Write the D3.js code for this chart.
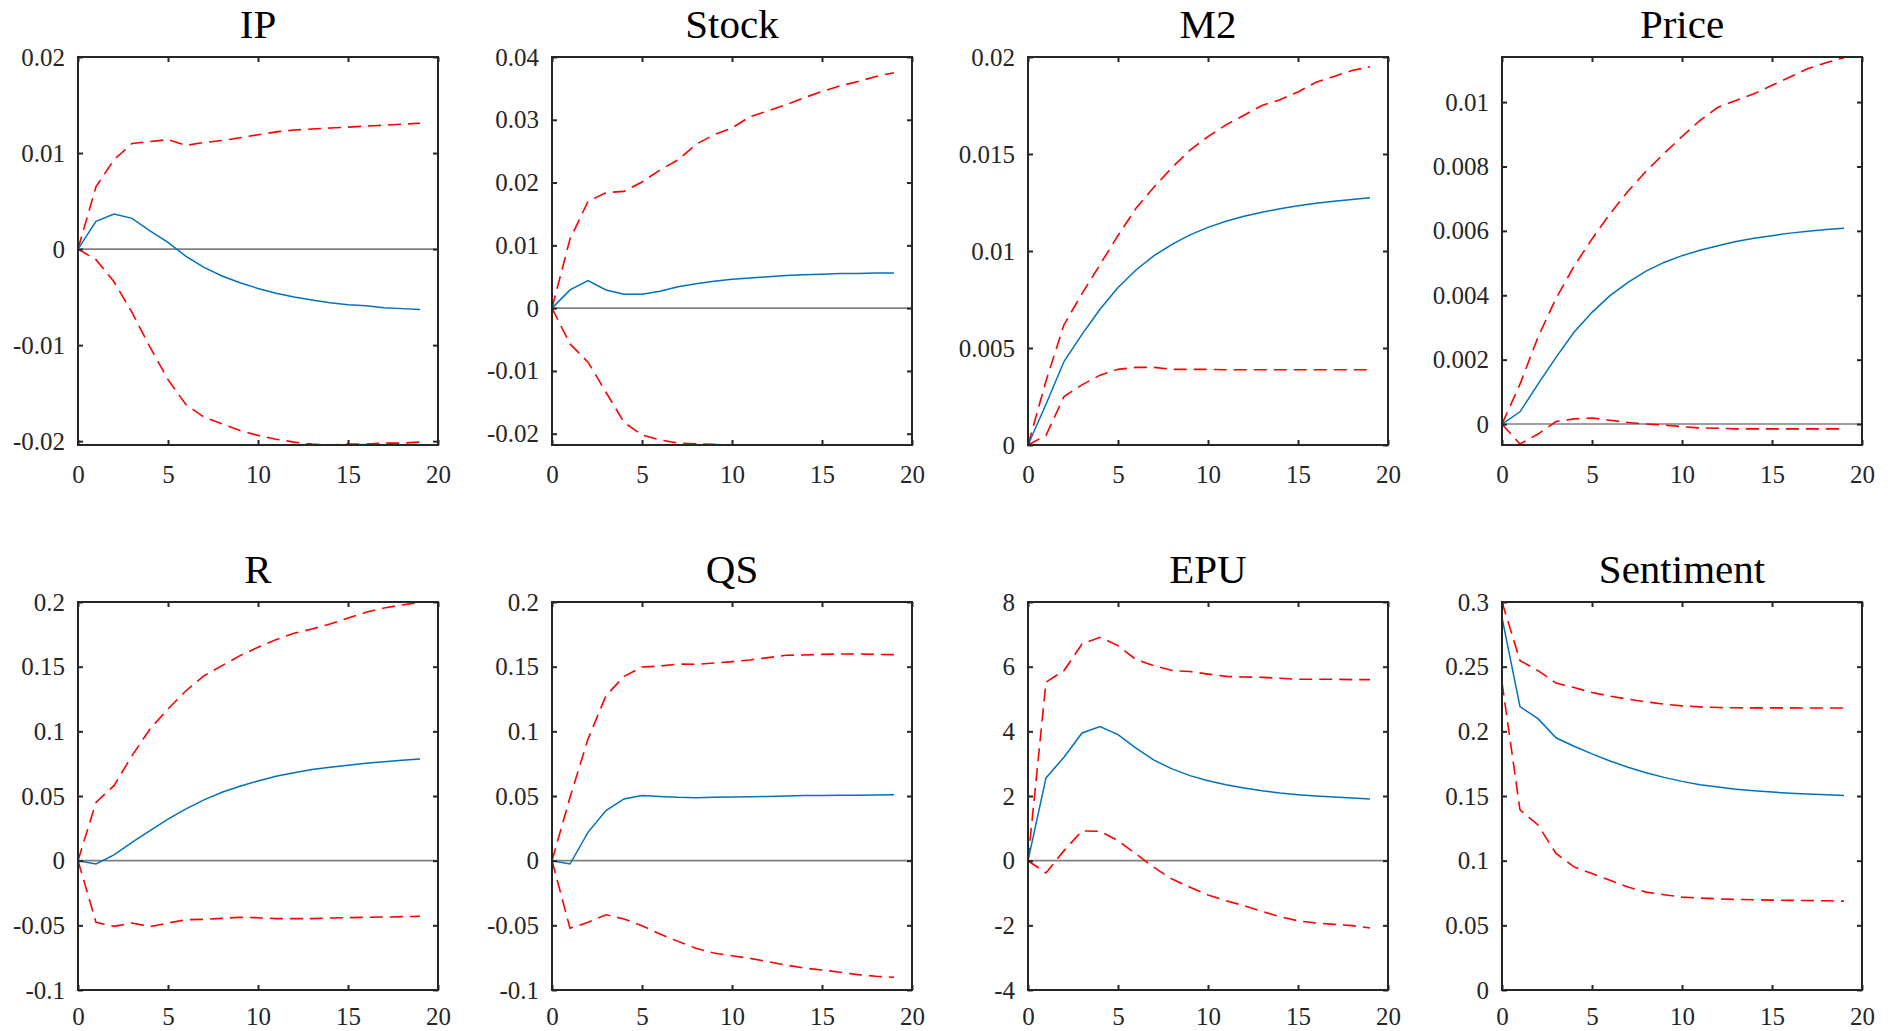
<!DOCTYPE html>
<html>
<head>
<meta charset="utf-8">
<script src="https://cdn.jsdelivr.net/npm/d3@7"></script>
<style>
  body { margin: 0; background: #fff; }
  svg { display: block; }
</style>
</head>
<body>
<div id="chart"></div>
<script>
// horizon 0..19
const horizons = d3.range(0, 20);
const xTicks = [0, 5, 10, 15, 20];

const titles = ['IP', 'Stock', 'M2', 'Price', 'R', 'QS', 'EPU', 'Sentiment'];

const yDomains = [
  [-0.0204, 0.02], [-0.0218, 0.04], [0, 0.02], [-0.00065, 0.0114],
  [-0.1, 0.2], [-0.1, 0.2], [-4, 8], [0, 0.3]
];
const yTicks = [
  [-0.02, -0.01, 0, 0.01, 0.02],
  [-0.02, -0.01, 0, 0.01, 0.02, 0.03, 0.04],
  [0, 0.005, 0.01, 0.015, 0.02],
  [0, 0.002, 0.004, 0.006, 0.008, 0.01],
  [-0.1, -0.05, 0, 0.05, 0.1, 0.15, 0.2],
  [-0.1, -0.05, 0, 0.05, 0.1, 0.15, 0.2],
  [-4, -2, 0, 2, 4, 6, 8],
  [0, 0.05, 0.1, 0.15, 0.2, 0.25, 0.3]
];

// impulse responses (median) and bands
const ipResp  = [0, 0.00288, 0.00365, 0.0032, 0.0019, 0.0007, -0.00076, -0.0019, -0.0028, -0.0035, -0.0041, -0.0046, -0.0050, -0.0053, -0.0056, -0.0058, -0.0059, -0.0061, -0.0062, -0.0063];
const ipUpper = [0, 0.0065, 0.0093, 0.0110, 0.0112, 0.0114, 0.0108, 0.0111, 0.0113, 0.0116, 0.0119, 0.0122, 0.0124, 0.0125, 0.0126, 0.0127, 0.0128, 0.0129, 0.0130, 0.0131];
const ipLower = [0, -0.0011, -0.0034, -0.0066, -0.0102, -0.0136, -0.0162, -0.0175, -0.0182, -0.0189, -0.0194, -0.0198, -0.0201, -0.0203, -0.0204, -0.0203, -0.0203, -0.0202, -0.0202, -0.0201];

const stockResp  = [0, 0.0029, 0.0044, 0.0029, 0.0022, 0.0022, 0.0027, 0.0034, 0.0039, 0.0043, 0.0046, 0.0048, 0.0050, 0.0052, 0.0053, 0.0054, 0.0055, 0.0055, 0.0056, 0.0056];
const stockUpper = [0, 0.0110, 0.0170, 0.0184, 0.0186, 0.0201, 0.0220, 0.0236, 0.0261, 0.0276, 0.0287, 0.0305, 0.0314, 0.0324, 0.0335, 0.0345, 0.0354, 0.0361, 0.0369, 0.0375];
const stockLower = [0, -0.0057, -0.0086, -0.0134, -0.0182, -0.0202, -0.0210, -0.0215, -0.0216, -0.0217, -0.0218, -0.0218, -0.0218, -0.0218, -0.0218, -0.0218, -0.0218, -0.0218, -0.0218, -0.0218];

const m2Resp  = [0, 0.0021, 0.0043, 0.0057, 0.0070, 0.00812, 0.00902, 0.00976, 0.01034, 0.01083, 0.01122, 0.01153, 0.01179, 0.01200, 0.01218, 0.01233, 0.01246, 0.01257, 0.01266, 0.01274];
const m2Upper = [0, 0.0033, 0.0062, 0.0078, 0.0093, 0.0108, 0.0122, 0.0133, 0.0143, 0.0152, 0.0159, 0.0165, 0.0170, 0.0175, 0.0178, 0.0182, 0.0187, 0.0190, 0.0193, 0.0195];
const m2Lower = [0, 0.0005, 0.0025, 0.0031, 0.0036, 0.0039, 0.0040, 0.0040, 0.0039, 0.0039, 0.0039, 0.00388, 0.00388, 0.00388, 0.00388, 0.00388, 0.00388, 0.00388, 0.00388, 0.00388];

const priceResp  = [0, 0.00038, 0.00124, 0.00207, 0.00285, 0.00347, 0.00399, 0.00440, 0.00475, 0.00502, 0.00523, 0.00540, 0.00554, 0.00567, 0.00577, 0.00585, 0.00593, 0.00599, 0.00604, 0.00608];
const priceUpper = [0, 0.00124, 0.00270, 0.00390, 0.00490, 0.00575, 0.00653, 0.00723, 0.00785, 0.00840, 0.00893, 0.00943, 0.00984, 0.01005, 0.01026, 0.01052, 0.01078, 0.01104, 0.01122, 0.01138];
const priceLower = [0, -0.00062, -0.00031, 0.00008, 0.00016, 0.00019, 0.00012, 0.00005, 0, -0.00003, -0.00008, -0.00012, -0.00013, -0.00015, -0.00015, -0.00015, -0.00015, -0.00015, -0.00015, -0.00015];

const rResp  = [0, -0.0026, 0.0044, 0.0142, 0.0232, 0.0322, 0.0400, 0.0470, 0.0529, 0.0575, 0.0616, 0.0652, 0.0680, 0.0704, 0.0722, 0.0737, 0.0753, 0.0765, 0.0776, 0.0786];
const rUpper = [0, 0.0451, 0.0580, 0.0812, 0.1018, 0.1173, 0.1314, 0.1430, 0.1508, 0.1585, 0.1650, 0.1709, 0.1758, 0.1791, 0.1830, 0.1876, 0.1920, 0.1954, 0.1977, 0.1997];
const rLower = [0, -0.0477, -0.0508, -0.0482, -0.0510, -0.0482, -0.0456, -0.0454, -0.0446, -0.0438, -0.0441, -0.0448, -0.0448, -0.0448, -0.0443, -0.0441, -0.0438, -0.0436, -0.0433, -0.0430];

const qsResp  = [0, -0.0026, 0.0219, 0.0387, 0.0477, 0.0503, 0.0497, 0.0490, 0.0487, 0.0490, 0.0492, 0.0495, 0.0497, 0.0500, 0.0503, 0.0503, 0.0505, 0.0506, 0.0508, 0.0510];
const qsUpper = [0, 0.0490, 0.0940, 0.1276, 0.1425, 0.1497, 0.1505, 0.1520, 0.1518, 0.1528, 0.1539, 0.1552, 0.1570, 0.1588, 0.1590, 0.1595, 0.1598, 0.1598, 0.1595, 0.1593];
const qsLower = [0, -0.0523, -0.0477, -0.0418, -0.0451, -0.0503, -0.0567, -0.0624, -0.0678, -0.0714, -0.0735, -0.0755, -0.0781, -0.0807, -0.0830, -0.0845, -0.0863, -0.0881, -0.0894, -0.0902];

const epuResp  = [0, 2.56, 3.20, 3.95, 4.15, 3.90, 3.48, 3.11, 2.84, 2.63, 2.47, 2.35, 2.25, 2.16, 2.09, 2.04, 2.00, 1.97, 1.94, 1.91];
const epuUpper = [0, 5.52, 5.88, 6.70, 6.91, 6.65, 6.22, 6.03, 5.88, 5.85, 5.77, 5.70, 5.68, 5.67, 5.64, 5.61, 5.61, 5.61, 5.60, 5.60];
const epuLower = [0, -0.38, 0.31, 0.92, 0.91, 0.62, 0.21, -0.21, -0.57, -0.82, -1.06, -1.24, -1.39, -1.57, -1.73, -1.86, -1.93, -1.97, -2.01, -2.08];

const sentResp  = [0.2879, 0.2191, 0.2098, 0.1950, 0.1885, 0.1826, 0.1771, 0.1722, 0.1680, 0.1644, 0.1613, 0.1587, 0.1569, 0.1553, 0.1540, 0.1530, 0.1522, 0.1515, 0.1509, 0.1504];
const sentUpper = [0.3000, 0.2547, 0.2469, 0.2373, 0.2339, 0.2300, 0.2272, 0.2249, 0.2228, 0.2210, 0.2197, 0.2189, 0.2184, 0.2182, 0.2181, 0.2181, 0.2181, 0.2180, 0.2180, 0.2180];
const sentLower = [0.2378, 0.1393, 0.1276, 0.1056, 0.0952, 0.0900, 0.0848, 0.0796, 0.0757, 0.0737, 0.0718, 0.0711, 0.0705, 0.0700, 0.0698, 0.0695, 0.0693, 0.0692, 0.0690, 0.0687];

const responses = [ipResp, stockResp, m2Resp, priceResp, rResp, qsResp, epuResp, sentResp];
const uppers = [ipUpper, stockUpper, m2Upper, priceUpper, rUpper, qsUpper, epuUpper, sentUpper];
const lowers = [ipLower, stockLower, m2Lower, priceLower, rLower, qsLower, epuLower, sentLower];

// layout
const W = 1890, H = 1031;
const FONT = '"Liberation Serif", "Times New Roman", serif';
const colLeft = [78, 552, 1028, 1502];
const rowTop = [57, 602];
const pw = 360, ph = 388;

const svg = d3.select('#chart').append('svg')
  .attr('width', W).attr('height', H);

function styleAxis(sel){
    sel.attr('font-family', FONT).attr('font-size', 25);
    sel.select('.domain').remove();
    sel.selectAll('.tick line').attr('stroke', '#262626').attr('stroke-width', 2);
    sel.selectAll('.tick text').attr('fill', '#262626').style('font-family', FONT).style('font-size', '25px');
}

titles.forEach((name, i) => {
  const row = Math.floor(i / 4);
  const left = colLeft[i % 4], top = rowTop[row];
  const g = svg.append('g').attr('transform', 'translate(' + left + ',' + top + ')');

  const x = d3.scaleLinear().domain([0, 20]).range([0, pw]);
  const y = d3.scaleLinear().domain(yDomains[i]).range([ph, 0]);

  const clipId = 'clip' + i;
  g.append('clipPath').attr('id', clipId)
    .append('rect').attr('width', pw).attr('height', ph);

  const plot = g.append('g').attr('clip-path', 'url(#' + clipId + ')');

  // zero line
  plot.append('line')
    .attr('x1', 0).attr('x2', pw)
    .attr('y1', y(0)).attr('y2', y(0))
    .attr('stroke', '#808080').attr('stroke-width', 1.6);

  const line = d3.line().x((d, k) => x(horizons[k])).y(d => y(d));

  [uppers[i], lowers[i]].forEach(band => {
    plot.append('path').datum(band)
      .attr('d', line)
      .attr('fill', 'none')
      .attr('stroke', '#ff0000')
      .attr('stroke-width', 1.6)
      .attr('stroke-dasharray', '13,7');
  });

  plot.append('path').datum(responses[i])
    .attr('d', line)
    .attr('fill', 'none')
    .attr('stroke', '#0072bd')
    .attr('stroke-width', 1.5);

  // axes (ticks point inward, box on)
  g.append('g').attr('transform', 'translate(0,' + ph + ')')
    .call(d3.axisBottom(x).tickValues(xTicks).tickSizeInner(-5).tickSizeOuter(0)
      .tickPadding(row === 0 ? 20 : 17).tickFormat(d => String(d)))
    .call(styleAxis);
  g.append('g')
    .call(d3.axisTop(x).tickValues(xTicks).tickSizeInner(-5).tickSizeOuter(0).tickFormat(''))
    .call(styleAxis);
  g.append('g')
    .call(d3.axisLeft(y).tickValues(yTicks[i]).tickSizeInner(-5).tickSizeOuter(0).tickPadding(13).tickFormat(d => String(d)))
    .call(styleAxis);
  g.append('g').attr('transform', 'translate(' + pw + ',0)')
    .call(d3.axisRight(y).tickValues(yTicks[i]).tickSizeInner(-5).tickSizeOuter(0).tickFormat(''))
    .call(styleAxis);

  g.append('rect')
    .attr('width', pw).attr('height', ph)
    .attr('fill', 'none')
    .attr('stroke', '#262626')
    .attr('stroke-width', 2);

  g.append('text')
    .attr('x', pw / 2).attr('y', -19)
    .attr('text-anchor', 'middle')
    .style('font-family', FONT)
    .style('font-size', '41px')
    .attr('fill', '#000')
    .text(name);
});
</script>
</body>
</html>
